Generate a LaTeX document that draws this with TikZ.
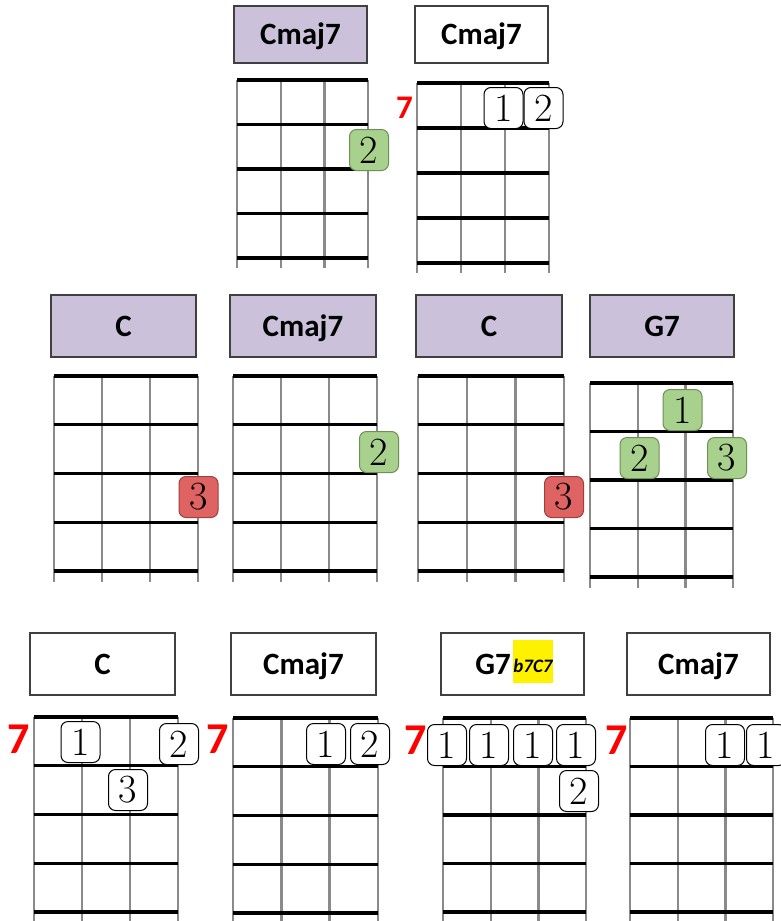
\documentclass[tikz,border=0pt]{standalone}
\usepackage{fontspec}
\newfontfamily\chordfont{Carlito}
\definecolor{lav}{HTML}{CCC1DA}
\definecolor{boxline}{HTML}{404040}
\definecolor{fgreen}{HTML}{A9D18E}
\definecolor{fgreenD}{HTML}{6E8F55}
\definecolor{fred}{HTML}{E06363}
\definecolor{fredD}{HTML}{9E4040}
\definecolor{strg}{HTML}{8A8A8A}
\tikzset{
  lbox/.style={draw=boxline, line width=1.3pt, inner sep=0pt, text height=20pt, text depth=0pt,
    font=\chordfont\bfseries\fontsize{31}{31}\selectfont},
  fretno/.style={inner sep=0pt, text=red, font=\chordfont\bfseries\fontsize{#1}{#1}\selectfont},
  finger/.style={rounded corners=7pt, minimum width=39pt, minimum height=41pt, inner sep=0pt,
    line width=1pt, font=\fontsize{40}{40}\selectfont},
  fgr/.style={finger, fill=fgreen, draw=fgreenD},
  fwh/.style={finger, fill=white, draw=black},
  frd/.style={finger, fill=fred, draw=fredD},
  stringline/.style={draw=strg, line width=2.4pt},
  fretline/.style={draw=black, line width=3.2pt},
  nutline/.style={draw=black, line width=4.6pt}
}
% x0, dx, y0, dy, ybottom
\newcommand\fboard[5]{%
  \foreach \i in {0,...,3} {\draw[stringline] ({#1+\i*#2},#3) -- ({#1+\i*#2},#5);}
  \draw[nutline] (#1,#3) -- ({#1+3*#2},#3);
  \foreach \j in {1,...,4} {\draw[fretline] (#1,{#3+\j*#4}) -- ({#1+3*#2},{#3+\j*#4});}
}
\begin{document}
\begin{tikzpicture}[x=1pt,y=-1pt]
\useasboundingbox (0,0) rectangle (781,921);
\clip (0,0) rectangle (781,921);
\fill[white] (0,0) rectangle (781,921);

% ---------- top row ----------
\node[lbox, fill=lav, minimum width=133pt, minimum height=57pt] (l1) at (300.5,34.5) {Cmaj7};
\fboard{237}{43.7}{80}{44.5}{268}
\node[fgr] (f1a) at (369,150) {2};

\node[lbox, fill=white, minimum width=133pt, minimum height=57pt] (l2) at (481.5,34.5) {Cmaj7};
\fboard{417}{44}{83}{45}{273}
\node[fretno=33] (n2) at (404.5,107.5) {7};
\node[fwh] (f2a) at (503.5,108) {1};
\node[fwh] (f2b) at (543.5,108) {2};

% ---------- middle row ----------
\node[lbox, fill=lav, minimum width=145pt, minimum height=62pt] (l3) at (123.5,326) {C};
\fboard{54}{48}{376}{48.75}{582}
\node[frd] (f3a) at (198.5,497) {3};

\node[lbox, fill=lav, minimum width=146pt, minimum height=62pt] (l4) at (303,326) {Cmaj7};
\fboard{233}{48}{376}{48.75}{582}
\node[fgr] (f4a) at (379,452) {2};

\node[lbox, fill=lav, minimum width=146pt, minimum height=62pt] (l5) at (489,326) {C};
\fboard{418}{48.7}{376}{48.75}{582}
\node[frd] (f5a) at (564,497) {3};

\node[lbox, fill=lav, minimum width=144pt, minimum height=62pt] (l6) at (662,326) {G7};
\fboard{590}{47.7}{383}{48.5}{588}
\node[fgr] (f6a) at (682.5,410) {1};
\node[fgr] (f6b) at (639.5,458) {2};
\node[fgr] (f6c) at (727,458) {3};

% ---------- bottom row ----------
\node[lbox, fill=white, minimum width=145pt, minimum height=62pt] (l7) at (102.5,664) {C};
\fboard{34}{48}{717}{48.75}{925}
\node[fretno=44] (n7) at (19,739) {7};
\node[fwh] (f7a) at (80.5,742) {1};
\node[fwh] (f7b) at (179,744) {2};
\node[fwh] (f7c) at (128,790) {3};

\node[lbox, fill=white, minimum width=145pt, minimum height=62pt] (l8) at (303.5,664) {Cmaj7};
\fboard{233}{48.3}{718}{48.75}{925}
\node[fretno=44] (n8) at (218,739) {7};
\node[fwh] (f8a) at (326,744) {1};
\node[fwh] (f8b) at (370,744) {2};

\node[lbox, fill=white, minimum width=143pt, minimum height=62pt] (l9) at (512.5,664) {};
\node[fill=yellow, minimum width=40pt, minimum height=43pt, inner sep=0pt] (hl) at (533,661.5) {};
\node[anchor=base east, inner sep=0pt, font=\chordfont\bfseries\fontsize{31}{31}\selectfont] (g7) at (511,674) {G7};
\node[anchor=base, inner sep=0pt, font=\chordfont\bfseries\itshape\fontsize{19}{19}\selectfont] (b7) at (533,672) {b7C7};
\fboard{443}{47.7}{718}{48.5}{925}
\node[fretno=44] (n9) at (416,740) {7};
\node[fwh] (f9a) at (447,745) {1};
\node[fwh] (f9b) at (489,745) {1};
\node[fwh] (f9c) at (533,745) {1};
\node[fwh] (f9d) at (576,745) {1};
\node[fwh] (f9e) at (579,791) {2};

\node[lbox, fill=white, minimum width=143pt, minimum height=62pt] (l10) at (698.5,664) {Cmaj7};
\fboard{630}{47.7}{718}{48.5}{925}
\node[fretno=44] (n10) at (617,740) {7};
\node[fwh] (f10a) at (725,745) {1};
\node[fwh] (f10b) at (766,745) {1};
\end{tikzpicture}
\end{document}
